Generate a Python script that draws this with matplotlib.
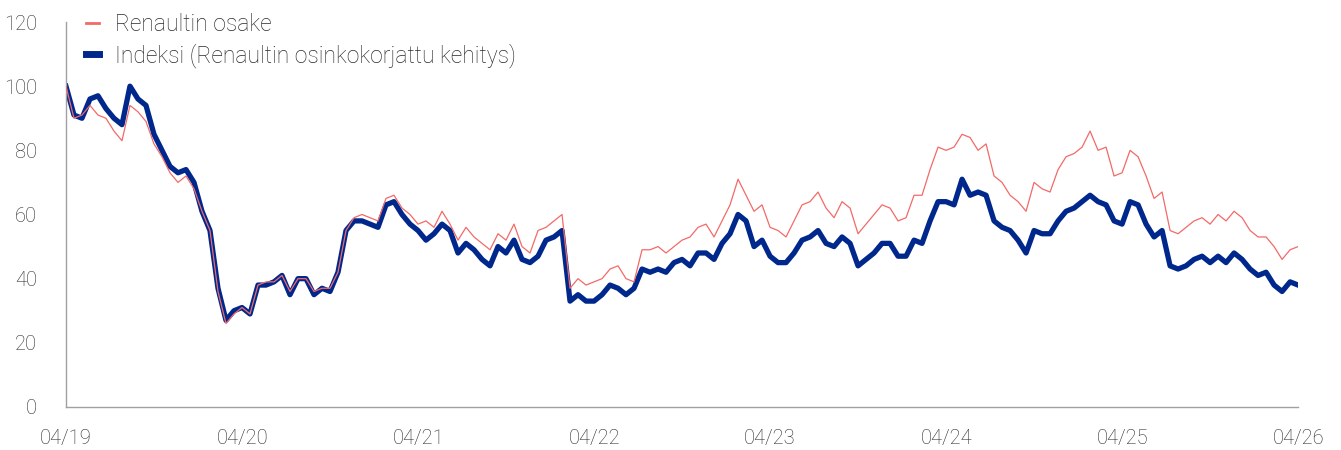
import pandas as pd
import matplotlib.pyplot as plt
import matplotlib.dates as mdates

# values, evenly spaced from 04/2019 to 04/2026
osake = [
    100, 90, 91, 94, 91, 90, 86, 83, 94, 92, 89, 82, 78, 73, 70, 72, 68, 61, 55, 36,
    26, 29, 31, 29, 38, 39, 39, 41, 36, 40, 40, 36, 37, 37, 42, 55, 59, 60, 59, 58,
    65, 66, 62, 60, 57, 58, 56, 61, 57, 52, 56, 53, 51, 49, 54, 52, 57, 50, 48, 55,
    56, 58, 60, 37, 40, 38, 39, 40, 43, 44, 40, 39, 49, 49, 50, 48, 50, 52, 53, 56,
    57, 53, 58, 63, 71, 66, 61, 63, 56, 55, 53, 58, 63, 64, 67, 62, 59, 64, 62, 54,
    57, 60, 63, 62, 58, 59, 66, 66, 74, 81, 80, 81, 85, 84, 80, 82, 72, 70, 66, 64,
    61, 70, 68, 67, 74, 78, 79, 81, 86, 80, 81, 72, 73, 80, 78, 72, 65, 67, 55, 54,
    56, 58, 59, 57, 60, 58, 61, 59, 55, 53, 53, 50, 46, 49, 50,
]
indeksi = [
    100, 91, 90, 96, 97, 93, 90, 88, 100, 96, 94, 85, 80, 75, 73, 74, 70, 61, 55, 37,
    27, 30, 31, 29, 38, 38, 39, 41, 35, 40, 40, 35, 37, 36, 42, 55, 58, 58, 57, 56,
    63, 64, 60, 57, 55, 52, 54, 57, 55, 48, 51, 49, 46, 44, 50, 48, 52, 46, 45, 47,
    52, 53, 55, 33, 35, 33, 33, 35, 38, 37, 35, 37, 43, 42, 43, 42, 45, 46, 44, 48,
    48, 46, 51, 54, 60, 58, 50, 52, 47, 45, 45, 48, 52, 53, 55, 51, 50, 53, 51, 44,
    46, 48, 51, 51, 47, 47, 52, 51, 58, 64, 64, 63, 71, 66, 67, 66, 58, 56, 55, 52,
    48, 55, 54, 54, 58, 61, 62, 64, 66, 64, 63, 58, 57, 64, 63, 57, 53, 55, 44, 43,
    44, 46, 47, 45, 47, 45, 48, 46, 43, 41, 42, 38, 36, 39, 38,
]
tick_years = [2019, 2020, 2021, 2022, 2023, 2024, 2025, 2026]
labels = ["Renaultin osake", "Indeksi (Renaultin osinkokorjattu kehitys)"]

dates = pd.date_range("2019-04-01", "2026-04-01", periods=len(osake))

plt.rcParams["font.family"] = ["Roboto", "DejaVu Sans"]
plt.rcParams["font.weight"] = "light"
text_color = "#2a2a2a"

fig = plt.figure(figsize=(13.41, 4.5), dpi=100)
ax = fig.add_axes([0.0492, 0.0956, 0.9188, 0.8555])

ax.plot(dates, indeksi, color="#00288c", lw=3.8, solid_joinstyle="round",
        label=labels[1], zorder=2)
ax.plot(dates, osake, color="#f26a68", lw=0.9, label=labels[0], zorder=3)

ax.set_ylim(0, 120)
ax.set_yticks(range(0, 121, 20))
ax.set_xlim(pd.Timestamp("2019-04-01"), pd.Timestamp("2026-04-01"))
ax.set_xticks([pd.Timestamp(f"{y}-04-01") for y in tick_years])
ax.xaxis.set_major_formatter(mdates.DateFormatter("%m/%y"))

for s in ["top", "right"]:
    ax.spines[s].set_visible(False)
for s in ["left", "bottom"]:
    ax.spines[s].set_color("#a0a0a0")
    ax.spines[s].set_linewidth(1.0)
ax.tick_params(axis="y", length=0, pad=21, labelsize=14.5, labelcolor=text_color)
ax.tick_params(axis="x", length=0, pad=16, labelsize=14.5, labelcolor=text_color)

h, l = ax.get_legend_handles_labels()
leg = fig.legend(h[::-1], l[::-1], loc="upper left", bbox_to_anchor=(0.0485, 1.016),
                 frameon=False, fontsize=16.5, handlelength=0.6, handletextpad=0.7,
                 labelspacing=0.3, labelcolor=text_color)
leg.get_lines()[0].set_linewidth(2.0)
leg.get_lines()[1].set_linewidth(5.0)

fig.savefig("out.png", dpi=100)
